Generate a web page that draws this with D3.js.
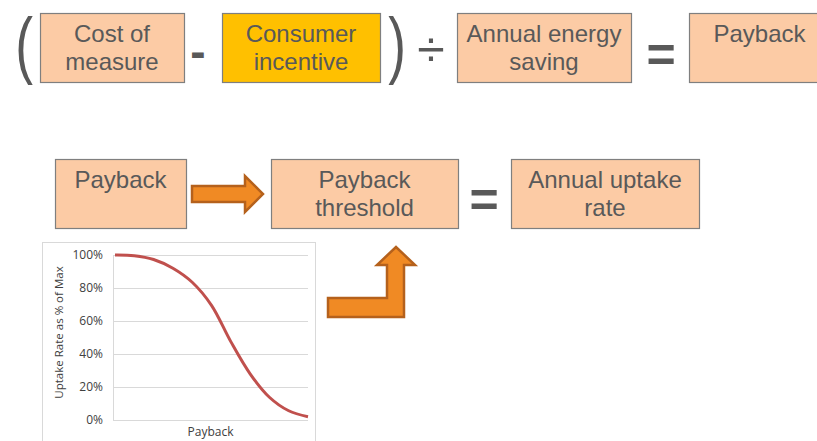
<!DOCTYPE html>
<html>
<head>
<meta charset="utf-8">
<script src="https://cdnjs.cloudflare.com/ajax/libs/d3/7.8.5/d3.min.js"></script>
<style>
  body { margin: 0; background: #fff; }
  svg { display: block; }
</style>
</head>
<body>
<svg width="817" height="441"></svg>
<script>
// ---- data ----
var topLabels = [['Cost of', 'measure'], ['Consumer', 'incentive'], ['Annual energy', 'saving'], ['Payback']];
var topFills = ['peach', 'gold', 'peach', 'peach'];
var rowLabels = [['Payback'], ['Payback', 'threshold'], ['Annual uptake', 'rate']];
var paybackX = [0, 1, 2, 3, 4, 5, 6, 7, 8, 9, 10];
var uptakePct = [100, 99.6, 97.3, 92, 83.5, 69.5, 47.5, 28, 13.8, 5.6, 2];
var yTicks = [0, 20, 40, 60, 80, 100];

var colors = {peach: '#FCCBA5', gold: '#FFC000', text: '#595959', box: '#7F7F7F',
  arrow: '#F08A24', arrowEdge: '#B5611C', line: '#C0504D', grid: '#D9D9D9'};

var svg = d3.select('svg');
var font = '"Liberation Sans", Arial, sans-serif';

// box layout
var topBoxes = [[40, 184], [222, 380], [457, 631], [689, 830]];
var rowBoxes = [[55, 186], [271, 458], [511, 699]];

function drawBox(g, x0, x1, y0, y1, fill, lines) {
  g.append('rect')
    .attr('x', x0 + 0.5).attr('y', y0 + 0.5)
    .attr('width', x1 - x0).attr('height', y1 - y0)
    .attr('fill', fill).attr('stroke', colors.box).attr('stroke-width', 1.2);
  g.selectAll(null).data(lines).enter().append('text')
    .attr('x', (x0 + x1) / 2)
    .attr('y', function(d, i) { return y0 + 29 + i * 28; })
    .attr('text-anchor', 'middle')
    .attr('font-family', font).attr('font-size', 24)
    .attr('fill', colors.text)
    .text(function(d) { return d; });
}

var g = svg.append('g');
topLabels.forEach(function(lines, i) {
  drawBox(g, topBoxes[i][0], topBoxes[i][1], 13, 82, colors[topFills[i]], lines);
});
rowLabels.forEach(function(lines, i) {
  drawBox(g, rowBoxes[i][0], rowBoxes[i][1], 159, 228, colors.peach, lines);
});

// operators
var ops = [
  {t: '(', x: 24, y: 70, s: 74, w: 'normal', sx: 0.72},
  {t: ')', x: 397, y: 70, s: 74, w: 'normal', sx: 0.72},
  {t: '-', x: 198, y: 67, s: 46, w: 'bold', sx: 1},
  {t: '\u00F7', x: 431, y: 66, s: 50, w: 'normal', sx: 1},
  {t: '=', x: 661, y: 72, s: 50, w: 'bold', sx: 1},
  {t: '=', x: 484, y: 217, s: 50, w: 'bold', sx: 1}
];
g.selectAll('.op').data(ops).enter().append('text')
  .attr('class', 'op')
  .attr('transform', function(d) { return 'translate(' + [d.x, d.y] + ') scale(' + d.sx + ',1)'; })
  .attr('text-anchor', 'middle')
  .attr('font-family', font)
  .attr('font-size', function(d) { return d.s; })
  .attr('font-weight', function(d) { return d.w; })
  .attr('fill', colors.text)
  .text(function(d) { return d.t; });

// arrows
var rightArrow = [[192, 186], [245, 186], [245, 176], [263, 194], [245, 212], [245, 202], [192, 202]];
var upArrow = [[328, 298], [387, 298], [387, 265], [377, 265], [396, 247], [415, 265], [404, 265], [404, 317], [328, 317]];
g.selectAll('.arrow').data([rightArrow, upArrow]).enter().append('path')
  .attr('class', 'arrow')
  .attr('d', function(d) { return d3.line()(d) + 'Z'; })
  .attr('fill', colors.arrow)
  .attr('stroke', colors.arrowEdge)
  .attr('stroke-width', 2.5)
  .attr('stroke-linejoin', 'miter');

// ---- chart ----
var frame = {l: 42, t: 242, r: 315, b: 460};
svg.append('rect')
  .attr('x', frame.l + 0.5).attr('y', frame.t + 0.5)
  .attr('width', frame.r - frame.l).attr('height', frame.b - frame.t)
  .attr('fill', '#fff').attr('stroke', colors.grid);

var plot = {l: 113, r: 308, t: 255, b: 420};
var x = d3.scaleLinear().domain([0, 10]).range([plot.l + 2, plot.r]);
var y = d3.scaleLinear().domain([0, 100]).range([plot.b, plot.t]);

var chartG = svg.append('g');
var yAx = chartG.append('g')
  .attr('transform', 'translate(' + [plot.l, 0] + ')')
  .call(d3.axisLeft(y).tickValues(yTicks).tickSize(-(plot.r - plot.l))
    .tickPadding(10).tickFormat(function(d) { return d + '%'; }));
yAx.select('.domain').attr('stroke', colors.grid);
yAx.selectAll('.tick line').attr('stroke', colors.grid);
yAx.selectAll('.tick text')
  .attr('font-family', '"Open Sans", sans-serif').attr('font-size', 12)
  .attr('fill', '#404040');

chartG.append('text')
  .attr('transform', 'translate(' + [63, (plot.t + plot.b) / 2 - 5] + ') rotate(-90)')
  .attr('text-anchor', 'middle')
  .attr('font-family', '"Open Sans", sans-serif').attr('font-size', 11.5)
  .attr('fill', '#404040')
  .text('Uptake Rate as % of Max');

chartG.append('text')
  .attr('x', (plot.l + plot.r) / 2).attr('y', 436)
  .attr('text-anchor', 'middle')
  .attr('font-family', '"Open Sans", sans-serif').attr('font-size', 12)
  .attr('fill', '#404040')
  .text('Payback');

var line = d3.line()
  .x(function(d, i) { return x(paybackX[i]); })
  .y(function(d) { return y(d); })
  .curve(d3.curveCatmullRom.alpha(0.5));
chartG.append('path')
  .datum(uptakePct)
  .attr('d', line)
  .attr('fill', 'none')
  .attr('stroke', colors.line)
  .attr('stroke-width', 3);
</script>
</body>
</html>
